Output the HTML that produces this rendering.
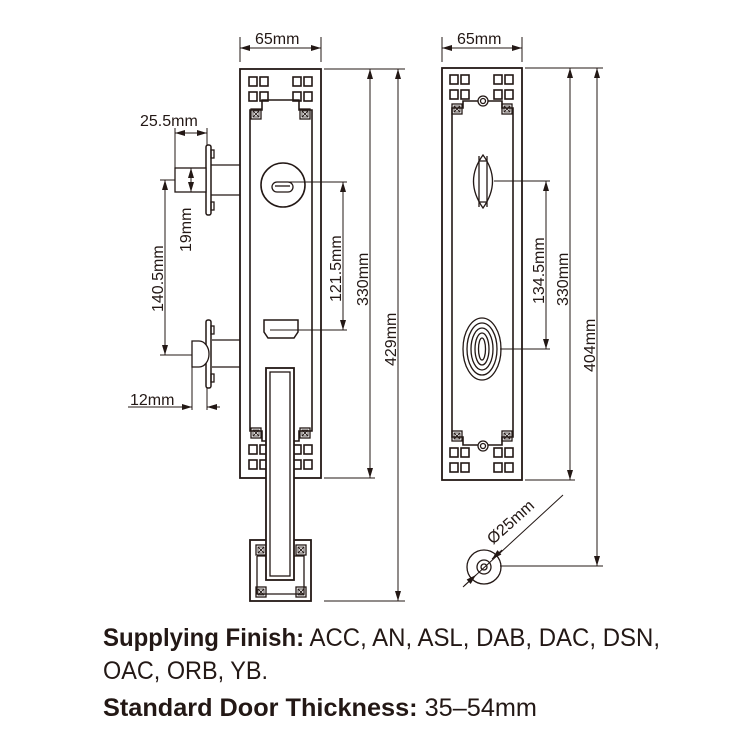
<!DOCTYPE html>
<html><head><meta charset="utf-8"><style>
html,body{margin:0;padding:0;background:#fff}
svg{display:block}
.t{font-family:"Liberation Sans",Arial,sans-serif;fill:#231815}
.b{font-family:"Liberation Sans Narrow","Liberation Sans",sans-serif;fill:#231815}
</style></head><body>
<svg width="750" height="750" viewBox="0 0 750 750" xmlns="http://www.w3.org/2000/svg">
<defs>
<marker id="a" viewBox="0 0 10 6" refX="10" refY="3" markerWidth="11" markerHeight="6" orient="auto-start-reverse" markerUnits="userSpaceOnUse"><path d="M0,0L10,3L0,6z" fill="#231815"/></marker>
<g id="sq"><rect x="0" y="0" width="8" height="9" fill="none" stroke="#231815" stroke-width="1.6"/></g>
<g id="sq4"><use href="#sq" x="0" y="0"/><use href="#sq" x="11" y="0"/><use href="#sq" x="0" y="15"/><use href="#sq" x="11" y="15"/></g>
<g id="xs"><rect x="0" y="0" width="10" height="10" fill="none" stroke="#231815" stroke-width="1.3"/><rect x="2" y="2" width="6" height="6" fill="none" stroke="#231815" stroke-width="0.8"/><path d="M2,2L8,8M8,2L2,8" stroke="#231815" stroke-width="0.9"/></g>
</defs>
<g fill="none" stroke="#231815" stroke-width="1.3">
<rect x="240" y="69" width="81" height="409" stroke-width="1.8"/>
<use href="#sq4" x="249" y="77"/><use href="#sq4" x="293" y="77"/>
<use href="#sq4" x="249" y="445"/><use href="#sq4" x="293" y="445"/>
<path d="M250,131 V110 H262 V100 H299 V110 H312 V431 H299 V441 H262 V431 H250 V131" stroke-width="1.6"/>
<use href="#xs" x="251" y="109"/><use href="#xs" x="300" y="109"/>
<use href="#xs" x="251" y="428"/><use href="#xs" x="300" y="428"/>
<circle cx="283" cy="185" r="22" stroke-width="1.6"/>
<rect x="272" y="182" width="21" height="10" rx="5"/>
<path d="M275,186 H290"/>
<path d="M264,320 H298 V332 L294,338 H268 L264,332 Z" stroke-width="1.5"/>
<rect x="250" y="540" width="61" height="61" stroke-width="1.8"/>
<path d="M257,556 V594 H304 V556 H257" stroke-width="1.3"/>
<use href="#xs" x="256" y="545"/><use href="#xs" x="296" y="545"/>
<use href="#xs" x="256" y="587"/><use href="#xs" x="296" y="587"/>
<rect x="266" y="368" width="28" height="212" fill="#fff" stroke-width="1.8"/>
<rect x="270" y="372" width="20" height="204" stroke-width="1.3"/>
<rect x="206" y="145" width="5" height="70" rx="2" fill="#fff" stroke-width="1.5"/>
<rect x="211" y="150" width="3" height="8"/><rect x="211" y="202" width="3" height="8"/>
<rect x="175" y="168" width="31" height="24" fill="#fff"/>
<path d="M211,165 H240 M211,195 H240"/>
<rect x="206" y="320" width="5" height="68" rx="2" fill="#fff" stroke-width="1.5"/>
<rect x="211" y="326" width="3" height="8"/><rect x="211" y="374" width="3" height="8"/>
<path d="M192,341 H199 A10,13 0 0 1 199,367 H192 Z" fill="#fff"/>
<path d="M212,340 H240 M212,367 H240"/>
<rect x="442" y="68" width="80" height="412" stroke-width="1.8"/>
<use href="#sq4" x="450" y="75"/><use href="#sq4" x="494" y="75"/>
<use href="#sq4" x="450" y="448"/><use href="#sq4" x="494" y="448"/>
<path d="M452,113 V108 H463 V101 H502 V108 H513 V437 H502 V445 H463 V437 H452 Z" stroke-width="1.6"/>
<use href="#xs" x="452" y="104"/><use href="#xs" x="502" y="104"/>
<use href="#xs" x="452" y="431"/><use href="#xs" x="502" y="431"/>
<circle cx="483" cy="101" r="5" fill="#fff"/><circle cx="483" cy="101" r="2.5"/>
<circle cx="483" cy="446" r="5" fill="#fff"/><circle cx="483" cy="446" r="2.5"/>
<path d="M483,155 Q502,181 483,208 Q464,181 483,155 Z"/>
<path d="M479,156 V207 M487,156 V207 M479,161 H487 M479,202 H487"/>
<ellipse cx="482" cy="349" rx="19" ry="31"/>
<ellipse cx="482" cy="349" rx="15" ry="26"/>
<ellipse cx="482" cy="349" rx="11" ry="21"/>
<ellipse cx="482" cy="349" rx="7" ry="16"/>
<ellipse cx="482" cy="349" rx="3.5" ry="11"/>
<circle cx="484" cy="567" r="17"/><circle cx="484" cy="567" r="7"/><circle cx="484" cy="567" r="3"/>
</g>
<g fill="none" stroke="#231815" stroke-width="1">
<path d="M240,37 V62 M321,37 V62"/><path d="M240,48 H321" marker-start="url(#a)" marker-end="url(#a)"/>
<path d="M442,37 V62 M522,37 V62"/><path d="M442,48 H522" marker-start="url(#a)" marker-end="url(#a)"/>
<path d="M324,69 H405 M324,478 H375 M324,601 H405"/>
<path d="M370,69 V478" marker-start="url(#a)" marker-end="url(#a)"/>
<path d="M398,69 V601" marker-start="url(#a)" marker-end="url(#a)"/>
<path d="M283,182 H347 M270,330 H347"/>
<path d="M343,182 V330" marker-start="url(#a)" marker-end="url(#a)"/>
<path d="M525,68 H603 M525,480 H575 M500,566 H603"/>
<path d="M570,68 V480" marker-start="url(#a)" marker-end="url(#a)"/>
<path d="M597,68 V566" marker-start="url(#a)" marker-end="url(#a)"/>
<path d="M494,181 H550 M500,349 H550"/>
<path d="M546,181 V349" marker-start="url(#a)" marker-end="url(#a)"/>
<path d="M175,128 V168 M207,128 V145"/>
<path d="M175,133 H207" marker-start="url(#a)" marker-end="url(#a)"/>
<path d="M191,168 V192" marker-start="url(#a)" marker-end="url(#a)"/>
<path d="M160,180 H175 M160,355 H192"/>
<path d="M165,180 V355" marker-start="url(#a)" marker-end="url(#a)"/>
<path d="M192,367 V410 M207,388 V410"/>
<path d="M128,407 H192" marker-end="url(#a)"/><path d="M220,407 H207" marker-end="url(#a)"/>
<path d="M463,587 L563,495"/>
<path d="M476,575 L464,586" marker-start="url(#a)"/>
<path d="M492,559 L502,550" marker-start="url(#a)"/>
</g>
<g class="t" font-size="16">
<text x="255" y="44">65mm</text>
<text x="457" y="44">65mm</text>
<text x="140" y="126">25.5mm</text>
<text x="130" y="405">12mm</text>
<text transform="translate(191,252) rotate(-90)">19mm</text>
<text transform="translate(163,312) rotate(-90)">140.5mm</text>
<text transform="translate(341,302) rotate(-90)">121.5mm</text>
<text transform="translate(368,306) rotate(-90)">330mm</text>
<text transform="translate(396,366) rotate(-90)">429mm</text>
<text transform="translate(544,304) rotate(-90)">134.5mm</text>
<text transform="translate(568,306) rotate(-90)">330mm</text>
<text transform="translate(595,372) rotate(-90)">404mm</text>
<text transform="translate(493,545) rotate(-42)">Ø25mm</text>
</g>
<g class="b" font-size="25">
<text x="103" y="646" textLength="557" lengthAdjust="spacingAndGlyphs"><tspan font-weight="bold">Supplying Finish:</tspan> ACC, AN, ASL, DAB, DAC, DSN,</text>
<text x="103" y="679" textLength="165" lengthAdjust="spacingAndGlyphs">OAC, ORB, YB.</text>
<text x="103" y="716" textLength="434" lengthAdjust="spacingAndGlyphs"><tspan font-weight="bold">Standard Door Thickness:</tspan> 35–54mm</text>
</g>
</svg>
</body></html>
